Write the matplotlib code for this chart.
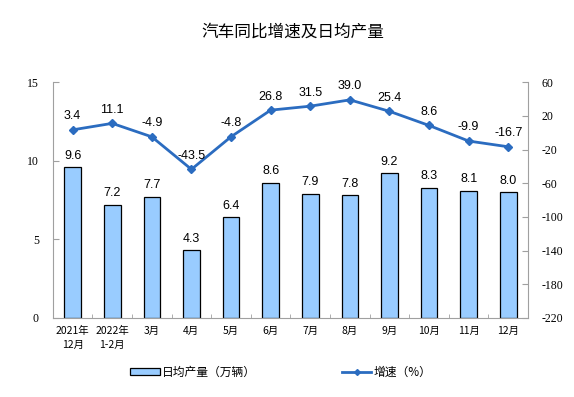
import matplotlib
matplotlib.use("Agg")
import matplotlib.pyplot as plt
import numpy as np
from matplotlib.lines import Line2D
from matplotlib.patches import Patch

plt.rcParams['font.family'] = ['Noto Sans CJK SC', 'DejaVu Sans']

# data
months = ["2021年\n12月", "2022年\n1-2月", "3月", "4月", "5月", "6月",
          "7月", "8月", "9月", "10月", "11月", "12月"]
daily_output = [9.6, 7.2, 7.7, 4.3, 6.4, 8.6, 7.9, 7.8, 9.2, 8.3, 8.1, 8.0]
growth = [3.4, 11.1, -4.9, -43.5, -4.8, 26.8, 31.5, 39.0, 25.4, 8.6, -9.9, -16.7]
left_ticks = [0, 5, 10, 15]
right_ticks = [60, 20, -20, -60, -100, -140, -180, -220]

bar_color = '#99CCFF'
line_color = '#2B6CC0'
axis_gray = '#A0A0A0'

fig = plt.figure(figsize=(5.74, 3.97), dpi=100)
ax = fig.add_axes([0.092, 0.199, 0.828, 0.594])
x = np.arange(len(months))

ax.bar(x, daily_output, width=0.42, color=bar_color, edgecolor='black', linewidth=0.9, zorder=2)
for xi, v in zip(x, daily_output):
    ax.text(xi, v + 0.35, f"{v:.1f}", ha='center', va='bottom', fontsize=9,
            family=['Liberation Sans', 'DejaVu Sans'])

ax.set_xlim(-0.5, len(months) - 0.5)
ax.set_ylim(0, 15)
ax.set_yticks(left_ticks)
ax.set_yticklabels([str(t) for t in left_ticks], fontsize=8.5)
for lbl in ax.get_yticklabels():
    lbl.set_family(['Liberation Serif', 'DejaVu Serif'])
ax.set_xticks(x)
ax.set_xticklabels(months, fontsize=7.5, linespacing=1.5)
ax.set_xticks(np.arange(len(months) + 1) - 0.5, minor=True)
ax.tick_params(axis='x', which='major', length=0, pad=6)
ax.tick_params(axis='x', which='minor', direction='in', length=3, color=axis_gray)
ax.tick_params(axis='y', direction='in', length=4, color=axis_gray, pad=10)
ax.spines['top'].set_visible(False)
ax.spines['right'].set_visible(False)
ax.spines['left'].set_color(axis_gray)
ax.spines['bottom'].set_color(axis_gray)

ax2 = ax.twinx()
ax2.plot(x, growth, color=line_color, linewidth=2, marker='D', markersize=4, zorder=3)
for xi, v in zip(x, growth):
    ax2.text(xi, v + 9, f"{v:.1f}", ha='center', va='bottom', fontsize=9,
             family=['Liberation Sans', 'DejaVu Sans'])
ax2.set_ylim(-220, 60)
ax2.set_yticks(right_ticks)
ax2.set_yticklabels([str(t) for t in right_ticks], fontsize=8.5)
for lbl in ax2.get_yticklabels():
    lbl.set_family(['Liberation Serif', 'DejaVu Serif'])
ax2.tick_params(axis='y', direction='in', length=4, color=axis_gray, pad=10)
ax2.spines['top'].set_visible(False)
ax2.spines['left'].set_visible(False)
ax2.spines['bottom'].set_visible(False)
ax2.spines['right'].set_color(axis_gray)

fig.text(0.51, 0.918, "汽车同比增速及日均产量", ha='center', va='center', fontsize=12)

handles = [Patch(facecolor=bar_color, edgecolor='black', linewidth=0.9),
           Line2D([0], [0], color=line_color, linewidth=2, marker='D', markersize=3)]
fig.legend(handles, ["日均产量（万辆）", "增速（%）"], loc='center', bbox_to_anchor=(0.489, 0.063),
           ncol=2, frameon=False, fontsize=8.5, columnspacing=7.3, handlelength=2.5,
           handleheight=0.5, handletextpad=0.15)

fig.savefig("out.png", dpi=100)
